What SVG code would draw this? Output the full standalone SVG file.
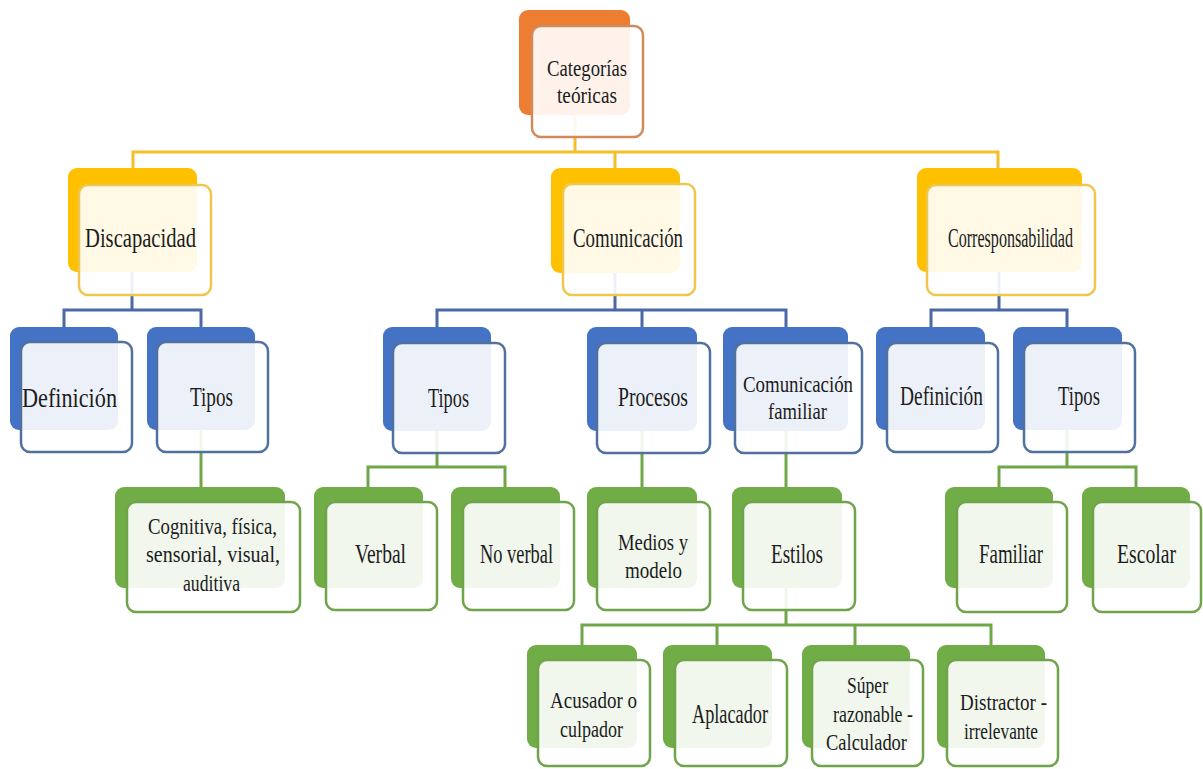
<svg xmlns="http://www.w3.org/2000/svg" width="1203" height="769" viewBox="0 0 1203 769">
<style>
.bk{stroke:none}
.fr{fill:#ffffff;fill-opacity:0.9;stroke-width:2.5}
.o .bk{fill:#ED7D31}.o .fr{stroke:#D08A5C}
.y .bk{fill:#FFC000}.y .fr{stroke:#EEC84E}
.b .bk{fill:#4472C4}.b .fr{stroke:#50709F}
.g .bk{fill:#70AD47}.g .fr{stroke:#6FA44B}
text{font-family:"Liberation Serif","Times New Roman","DejaVu Serif",serif;fill:#1c1c1c;font-size:27px}
.m{font-size:24px}
.cy{fill:none;stroke:#F3C02A;stroke-width:3}
.cb{fill:none;stroke:#4A69A6;stroke-width:3}
.cg{fill:none;stroke:#70A64A;stroke-width:3}
</style>
<rect width="1203" height="769" fill="#ffffff"/>
<g id="connectors">
<path class="cy" d="M575 115V152M133 168V152H998V168M615 152V168"/>
<path class="cb" d="M132 272V310M64 327V310H201V327"/>
<path class="cb" d="M615 273V310M437 327V310H786V327M642 310V327"/>
<path class="cb" d="M999 272V310M931 327V310H1067V327"/>
<path class="cg" d="M201 430V487"/>
<path class="cg" d="M437 431V467M368 487V467H505V487"/>
<path class="cg" d="M642 431V487"/>
<path class="cg" d="M786 431V487"/>
<path class="cg" d="M1067 430V467M999 487V467H1136V487"/>
<path class="cg" d="M786 588V625M582 645V625H991V645M717 625V645M855 625V645"/>
</g>
<g id="n-categorias" class="o"><rect class="bk" x="519" y="10" width="111" height="105" rx="9"/><rect class="fr" x="532" y="26" width="111" height="111" rx="9"/>
<text class="m" x="547" y="76" textLength="80" lengthAdjust="spacingAndGlyphs">Categorías</text><text class="m" x="557" y="103" textLength="60" lengthAdjust="spacingAndGlyphs">teóricas</text></g>
<g id="n-discapacidad" class="y"><rect class="bk" x="68" y="168" width="129" height="104" rx="9"/><rect class="fr" x="79" y="185" width="132" height="110" rx="9"/>
<text x="85" y="247" font-size="25" textLength="111" lengthAdjust="spacingAndGlyphs">Discapacidad</text></g>
<g id="n-comunicacion" class="y"><rect class="bk" x="551" y="168" width="129" height="105" rx="9"/><rect class="fr" x="563" y="184" width="132" height="111" rx="9"/>
<text x="573" y="247" font-size="26" textLength="110" lengthAdjust="spacingAndGlyphs">Comunicación</text></g>
<g id="n-corresponsabilidad" class="y"><rect class="bk" x="917" y="168" width="165" height="104" rx="9"/><rect class="fr" x="927" y="185" width="168" height="110" rx="9"/>
<text x="948" y="247" font-size="23" textLength="125" lengthAdjust="spacingAndGlyphs">Corresponsabilidad</text></g>
<g id="n-definicion-1" class="b"><rect class="bk" x="10" y="327" width="108" height="103" rx="9"/><rect class="fr" x="21" y="342" width="111" height="110" rx="9"/>
<text x="22" y="407" font-size="28" textLength="95" lengthAdjust="spacingAndGlyphs">Definición</text></g>
<g id="n-tipos-1" class="b"><rect class="bk" x="147" y="327" width="108" height="103" rx="9"/><rect class="fr" x="157" y="342" width="111" height="110" rx="9"/>
<text x="190" y="406" font-size="28" textLength="43" lengthAdjust="spacingAndGlyphs">Tipos</text></g>
<g id="n-tipos-2" class="b"><rect class="bk" x="383" y="327" width="108" height="104" rx="9"/><rect class="fr" x="393" y="343" width="112" height="110" rx="9"/>
<text x="428" y="407" font-size="28" textLength="41" lengthAdjust="spacingAndGlyphs">Tipos</text></g>
<g id="n-procesos" class="b"><rect class="bk" x="587" y="327" width="110" height="104" rx="9"/><rect class="fr" x="597" y="343" width="113" height="110" rx="9"/>
<text x="618" y="406" font-size="28" textLength="70" lengthAdjust="spacingAndGlyphs">Procesos</text></g>
<g id="n-comfamiliar" class="b"><rect class="bk" x="723" y="327" width="125" height="104" rx="9"/><rect class="fr" x="735" y="343" width="127" height="110" rx="9"/>
<text class="m" x="743" y="392" textLength="110" lengthAdjust="spacingAndGlyphs">Comunicación</text><text class="m" x="768" y="419" textLength="59" lengthAdjust="spacingAndGlyphs">familiar</text></g>
<g id="n-definicion-2" class="b"><rect class="bk" x="876" y="327" width="109" height="103" rx="9"/><rect class="fr" x="887" y="343" width="111" height="109" rx="9"/>
<text x="900" y="405" textLength="83" lengthAdjust="spacingAndGlyphs">Definición</text></g>
<g id="n-tipos-3" class="b"><rect class="bk" x="1013" y="327" width="109" height="103" rx="9"/><rect class="fr" x="1024" y="343" width="111" height="109" rx="9"/>
<text x="1058" y="405" textLength="42" lengthAdjust="spacingAndGlyphs">Tipos</text></g>
<g id="n-cognitiva" class="g"><rect class="bk" x="115" y="487" width="170" height="101" rx="9"/><rect class="fr" x="127" y="502" width="173" height="110" rx="9"/>
<text class="m" x="148" y="534" textLength="129" lengthAdjust="spacingAndGlyphs">Cognitiva, física,</text><text class="m" x="146" y="562" textLength="134" lengthAdjust="spacingAndGlyphs">sensorial, visual,</text><text class="m" x="183" y="591" textLength="57" lengthAdjust="spacingAndGlyphs">auditiva</text></g>
<g id="n-verbal" class="g"><rect class="bk" x="314" y="487" width="109" height="101" rx="9"/><rect class="fr" x="326" y="502" width="111" height="108" rx="9"/>
<text x="355" y="563" textLength="51" lengthAdjust="spacingAndGlyphs">Verbal</text></g>
<g id="n-noverbal" class="g"><rect class="bk" x="451" y="487" width="109" height="101" rx="9"/><rect class="fr" x="463" y="502" width="111" height="108" rx="9"/>
<text x="480" y="563" textLength="73" lengthAdjust="spacingAndGlyphs">No verbal</text></g>
<g id="n-medios" class="g"><rect class="bk" x="587" y="487" width="110" height="101" rx="9"/><rect class="fr" x="597" y="502" width="113" height="108" rx="9"/>
<text class="m" x="618" y="550" textLength="70" lengthAdjust="spacingAndGlyphs">Medios y</text><text class="m" x="625" y="578" textLength="57" lengthAdjust="spacingAndGlyphs">modelo</text></g>
<g id="n-estilos" class="g"><rect class="bk" x="732" y="487" width="110" height="101" rx="9"/><rect class="fr" x="743" y="502" width="112" height="108" rx="9"/>
<text x="771" y="563" textLength="52" lengthAdjust="spacingAndGlyphs">Estilos</text></g>
<g id="n-familiar" class="g"><rect class="bk" x="945" y="487" width="108" height="101" rx="9"/><rect class="fr" x="957" y="502" width="110" height="110" rx="9"/>
<text x="979" y="563" textLength="64" lengthAdjust="spacingAndGlyphs">Familiar</text></g>
<g id="n-escolar" class="g"><rect class="bk" x="1082" y="487" width="108" height="101" rx="9"/><rect class="fr" x="1093" y="502" width="108" height="110" rx="9"/>
<text x="1117" y="563" textLength="59" lengthAdjust="spacingAndGlyphs">Escolar</text></g>
<g id="n-acusador" class="g"><rect class="bk" x="527" y="645" width="110" height="103" rx="9"/><rect class="fr" x="538" y="660" width="112" height="106" rx="9"/>
<text class="m" x="550" y="708" textLength="87" lengthAdjust="spacingAndGlyphs">Acusador o</text><text class="m" x="560" y="737" textLength="63" lengthAdjust="spacingAndGlyphs">culpador</text></g>
<g id="n-aplacador" class="g"><rect class="bk" x="663" y="645" width="109" height="103" rx="9"/><rect class="fr" x="675" y="660" width="112" height="106" rx="9"/>
<text x="692" y="723" textLength="76" lengthAdjust="spacingAndGlyphs">Aplacador</text></g>
<g id="n-super" class="g"><rect class="bk" x="802" y="645" width="108" height="103" rx="9"/><rect class="fr" x="812" y="660" width="111" height="106" rx="9"/>
<text class="m" x="847" y="693" textLength="41" lengthAdjust="spacingAndGlyphs">Súper</text><text class="m" x="833" y="722" textLength="80" lengthAdjust="spacingAndGlyphs">razonable -</text><text class="m" x="826" y="750" textLength="81" lengthAdjust="spacingAndGlyphs">Calculador</text></g>
<g id="n-distractor" class="g"><rect class="bk" x="937" y="645" width="108" height="103" rx="9"/><rect class="fr" x="947" y="660" width="111" height="106" rx="9"/>
<text class="m" x="960" y="710" textLength="87" lengthAdjust="spacingAndGlyphs">Distractor -</text><text class="m" x="964" y="739" textLength="74" lengthAdjust="spacingAndGlyphs">irrelevante</text></g>
</svg>
